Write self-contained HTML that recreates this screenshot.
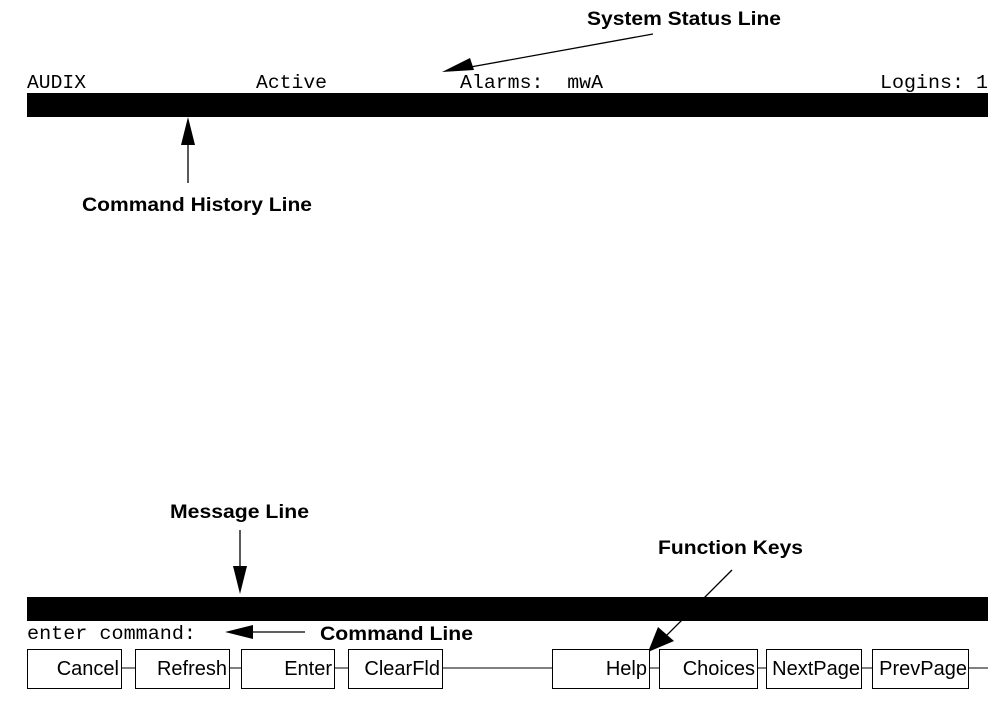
<!DOCTYPE html>
<html><head><style>
html,body{margin:0;padding:0;background:#fff;}
svg{display:block;}
.m{font-family:"Liberation Mono",monospace;font-size:19px;}
.b{font-family:"Liberation Sans",sans-serif;font-size:19px;font-weight:bold;}
.k{font-family:"Liberation Sans",sans-serif;font-size:20px;}
</style></head><body>
<svg width="998" height="713" viewBox="0 0 998 713" xmlns="http://www.w3.org/2000/svg">
<rect x="27" y="93" width="961" height="24" fill="#000"/>
<rect x="27" y="597" width="961" height="24" fill="#000"/>
<text class="m" x="27" y="88" textLength="59" lengthAdjust="spacingAndGlyphs">AUDIX</text>
<text class="m" x="256" y="88" textLength="71" lengthAdjust="spacingAndGlyphs">Active</text>
<text class="m" x="460" y="88" xml:space="preserve" textLength="143" lengthAdjust="spacingAndGlyphs">Alarms:  mwA</text>
<text class="m" x="880" y="88" textLength="108" lengthAdjust="spacingAndGlyphs">Logins: 1</text>
<text class="m" x="27" y="639" textLength="169" lengthAdjust="spacingAndGlyphs">enter command:</text>

<text class="b" x="587" y="25" textLength="194" lengthAdjust="spacingAndGlyphs">System Status Line</text>
<line x1="653" y1="34" x2="465" y2="68" stroke="#000" stroke-width="1.3"/>
<polygon points="442,72 470,58 474,70" fill="#000"/>

<text class="b" x="82" y="211" textLength="230" lengthAdjust="spacingAndGlyphs">Command History Line</text>
<line x1="188" y1="183" x2="188" y2="140" stroke="#000" stroke-width="1.3"/>
<polygon points="188,117 181,145 195,145" fill="#000"/>

<text class="b" x="170" y="518" textLength="139" lengthAdjust="spacingAndGlyphs">Message Line</text>
<line x1="240" y1="530" x2="240" y2="570" stroke="#000" stroke-width="1.3"/>
<polygon points="240,594 233,566 247,566" fill="#000"/>

<text class="b" x="658" y="554" textLength="145" lengthAdjust="spacingAndGlyphs">Function Keys</text>
<line x1="732" y1="570" x2="665" y2="637" stroke="#000" stroke-width="1.3"/>
<polygon points="648,652 658,627 674,641" fill="#000"/>

<text class="b" x="320" y="640" textLength="153" lengthAdjust="spacingAndGlyphs">Command Line</text>
<line x1="305" y1="632" x2="250" y2="632" stroke="#000" stroke-width="1.3"/>
<polygon points="225,632 253,625 253,639" fill="#000"/>

<line x1="121" y1="668" x2="988" y2="668" stroke="#000" stroke-width="1"/>
<g fill="#fff" stroke="#000" stroke-width="1">
<rect x="27.5" y="649.5" width="94" height="39"/>
<rect x="135.5" y="649.5" width="94" height="39"/>
<rect x="241.5" y="649.5" width="93" height="39"/>
<rect x="348.5" y="649.5" width="94" height="39"/>
<rect x="552.5" y="649.5" width="97" height="39"/>
<rect x="659.5" y="649.5" width="98" height="39"/>
<rect x="766.5" y="649.5" width="95" height="39"/>
<rect x="872.5" y="649.5" width="96" height="39"/>
</g>
<g class="k" text-anchor="end">
<text x="119" y="675">Cancel</text>
<text x="227" y="675">Refresh</text>
<text x="332" y="675">Enter</text>
<text x="440" y="675">ClearFld</text>
<text x="647" y="675">Help</text>
<text x="755" y="675">Choices</text>
<text x="860" y="675">NextPage</text>
<text x="967" y="675">PrevPage</text>
</g>
</svg>
</body></html>
